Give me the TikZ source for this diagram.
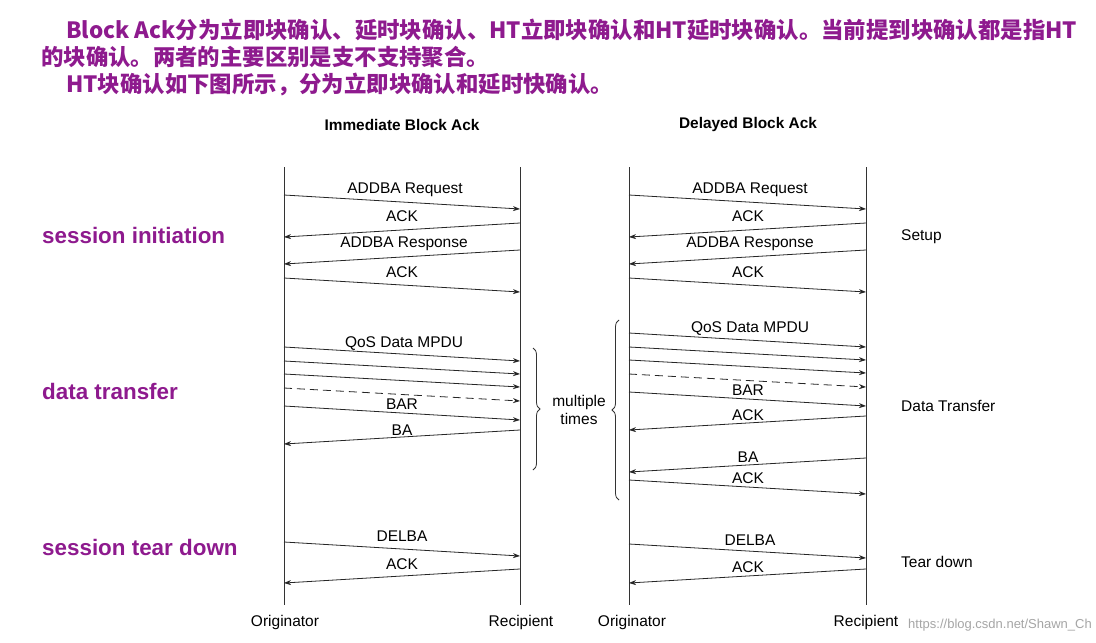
\documentclass[tikz,border=0pt]{standalone}
\usepackage{fontspec}
\setmainfont{Liberation Sans}
\newfontfamily\cjk{Noto Sans CJK SC}
\usetikzlibrary{arrows.meta,decorations.pathreplacing}
\definecolor{ttl}{HTML}{8E1A8E}
\tikzset{
  msg/.style={draw=black!85,line width=0.8pt,-{Stealth[length=7pt,width=5pt]}},
  lab/.style={font=\fontsize{15.5}{17}\selectfont,inner sep=0pt},
  life/.style={draw=black!80,line width=0.8pt},
  sess/.style={font=\fontsize{22.4}{25}\selectfont\bfseries,text=ttl,anchor=west,inner sep=0pt},
  cn/.style={font=\fontsize{22.4}{26}\selectfont\cjk\bfseries,text=ttl,anchor=west,inner sep=0pt}
}
\begin{document}
\begin{tikzpicture}[x=1pt,y=-1pt]
\useasboundingbox[fill=white] (0,0) rectangle (1096,643);
\node[cn] (t1) at (66,30) {Block Ack分为立即块确认、延时块确认、HT立即块确认和HT延时块确认。当前提到块确认都是指HT};
\node[cn] (t2) at (41,57) {的块确认。两者的主要区别是支不支持聚合。};
\node[cn] (t3) at (66,84) {HT块确认如下图所示，分为立即块确认和延时快确认。};
\node[sess] (s1) at (42,235) {session initiation};
\node[sess] (s2) at (42,391) {data transfer};
\node[sess] (s3) at (42,547) {session tear down};
\node[lab,font=\fontsize{15.4}{17}\selectfont\bfseries] (h1) at (402,125) {Immediate Block Ack};
\node[lab,font=\fontsize{15.4}{17}\selectfont\bfseries] (h2) at (748,125) {Delayed Block Ack};
\foreach \x in {284,520,629,866}{\draw[life] (\x,167) -- (\x,605);}
\node[lab] (o1) at (285,622) {Originator};
\node[lab] (r1) at (521,622) {Recipient};
\node[lab] (o2) at (632,622) {Originator};
\node[lab] (r2) at (866,622) {Recipient};
\node[lab,anchor=west] (su) at (901,237) {Setup};
\node[lab,anchor=west] (dt) at (901,406) {Data Transfer};
\node[lab,anchor=west] (td) at (901,562) {Tear down};
% immediate
\draw[msg] (284,195) -- (520,209); \node[lab] at (405,190) {ADDBA Request};
\draw[msg] (520,223) -- (284,237); \node[lab] at (402,216) {ACK};
\draw[msg] (520,250) -- (284,264); \node[lab] at (404,244) {ADDBA Response};
\draw[msg] (284,278) -- (520,292); \node[lab] at (402,272) {ACK};
\draw[msg] (284,347) -- (520,361); \node[lab] at (404,344) {QoS Data MPDU};
\draw[msg] (284,361) -- (520,374);
\draw[msg] (284,374) -- (520,387);
\draw[msg,dashed,dash pattern=on 8pt off 5pt] (284,388) -- (520,401);
\draw[msg] (284,406) -- (520,420); \node[lab] at (402,404) {BAR};
\draw[msg] (520,430) -- (284,444); \node[lab] at (402,430) {BA};
\draw[life,decorate,decoration={brace,amplitude=7pt}] (533,348) -- (533,470);
\node[lab,align=center,font=\fontsize{15.5}{18}\selectfont] (mt) at (579,410) {multiple\\times};
\draw[msg] (284,542) -- (520,556); \node[lab] at (402,536) {DELBA};
\draw[msg] (520,569) -- (284,583); \node[lab] at (402,564) {ACK};
% delayed
\draw[msg] (629,195) -- (866,209); \node[lab] at (750,190) {ADDBA Request};
\draw[msg] (866,223) -- (629,237); \node[lab] at (748,216) {ACK};
\draw[msg] (866,250) -- (629,264); \node[lab] at (750,244) {ADDBA Response};
\draw[msg] (629,278) -- (866,292); \node[lab] at (748,272) {ACK};
\draw[life,decorate,decoration={brace,amplitude=7pt}] (619,500) -- (619,320);
\draw[msg] (629,333) -- (866,347); \node[lab] at (750,329) {QoS Data MPDU};
\draw[msg] (629,347) -- (866,360);
\draw[msg] (629,360) -- (866,373);
\draw[msg,dashed,dash pattern=on 8pt off 5pt] (629,374) -- (866,387);
\draw[msg] (629,392) -- (866,406); \node[lab] at (748,390) {BAR};
\draw[msg] (866,416) -- (629,430); \node[lab] at (748,415) {ACK};
\draw[msg] (866,458) -- (629,472); \node[lab] at (748,457) {BA};
\draw[msg] (629,480) -- (866,494); \node[lab] at (748,478) {ACK};
\draw[msg] (629,544) -- (866,558); \node[lab] at (750,540) {DELBA};
\draw[msg] (866,569) -- (629,583); \node[lab] at (748,567) {ACK};
\node[lab,anchor=east,text=black!35,font=\fontsize{13}{14}\selectfont] (wm) at (1092,625) {https://blog.csdn.net/Shawn\_Ch};
\end{tikzpicture}
\end{document}
